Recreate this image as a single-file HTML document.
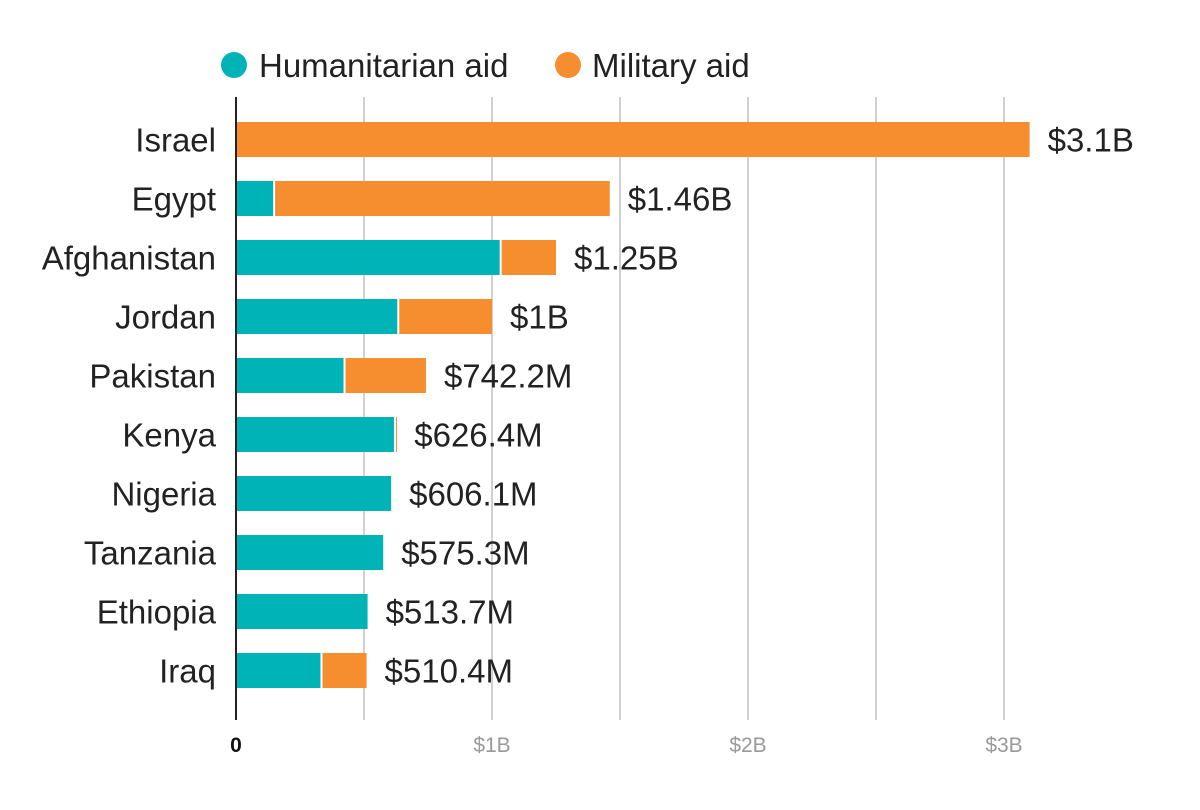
<!DOCTYPE html>
<html><head><meta charset="utf-8"><style>
body{margin:0;background:#fff;}
svg{display:block;font-family:"Liberation Sans",sans-serif;}
</style></head><body>
<svg id="chart" width="1200" height="810">
<g>
<circle cx="234" cy="65" r="13" fill="#00b3b7"/>
<text x="259" y="77" font-size="33" fill="#222">Humanitarian aid</text>
<circle cx="568" cy="65" r="13" fill="#f68d2e"/>
<text x="592" y="77" font-size="33" fill="#222">Military aid</text>
</g>
<g id="grid"></g><g id="bars"></g><g id="labels"></g><g id="ticks"></g>
</svg>
<script>
const countries=["Israel","Egypt","Afghanistan","Jordan","Pakistan","Kenya","Nigeria","Tanzania","Ethiopia","Iraq"];
const humanitarian=[0,0.145,1.03,0.63,0.42,0.617,0.606,0.575,0.514,0.33];
const military=[3.1,1.315,0.22,0.37,0.322,0.009,0,0,0,0.18];
const totalLabels=["$3.1B","$1.46B","$1.25B","$1B","$742.2M","$626.4M","$606.1M","$575.3M","$513.7M","$510.4M"];
const tickValues=[0,1,2,3];
const tickLabels=["0","$1B","$2B","$3B"];
const gridValues=[0.5,1,1.5,2,2.5,3];
const NS="http://www.w3.org/2000/svg";
const x=v=>236+v*256;
const y=i=>122+i*59;
const BH=35;
function mk(tag,attrs,parent){const e=document.createElementNS(NS,tag);for(const k in attrs)e.setAttribute(k,attrs[k]);document.getElementById(parent).appendChild(e);return e;}
gridValues.forEach(v=>{const l=mk("line",{x1:x(v),x2:x(v),y1:97,y2:720,stroke:"#d0d0d0","stroke-width":2},"grid");

});
countries.forEach((c,i)=>{
 const t=mk("text",{x:216,y:y(i)+BH/2+12,"font-size":33,fill:"#222","text-anchor":"end"},"labels");t.textContent=c;
 
 
 if(humanitarian[i]>0){const r=mk("rect",{x:x(0),y:y(i),width:x(humanitarian[i])-x(0),height:BH,fill:"#00b3b7"},"bars");
 
 }
 if(military[i]>0){const s=x(humanitarian[i])+(humanitarian[i]>0?2:0);const r=mk("rect",{x:s,y:y(i),width:Math.max(1,x(humanitarian[i]+military[i])-s),height:BH,fill:"#f68d2e"},"bars");
 
 }
 const v=mk("text",{x:x(humanitarian[i]+military[i])+18,y:y(i)+BH/2+12,"font-size":33,fill:"#222"},"labels");v.textContent=totalLabels[i];
 
 
});
const ax=mk("line",{x1:236,x2:236,y1:97,y2:720,stroke:"#222","stroke-width":2},"ticks");


tickValues.forEach((v,i)=>{const t=mk("text",{x:x(v),y:752,"font-size":21,"text-anchor":"middle",fill:i==0?"#111":"#999","font-weight":i==0?"bold":"normal"},"ticks");t.textContent=tickLabels[i];

});
</script>
</body></html>
